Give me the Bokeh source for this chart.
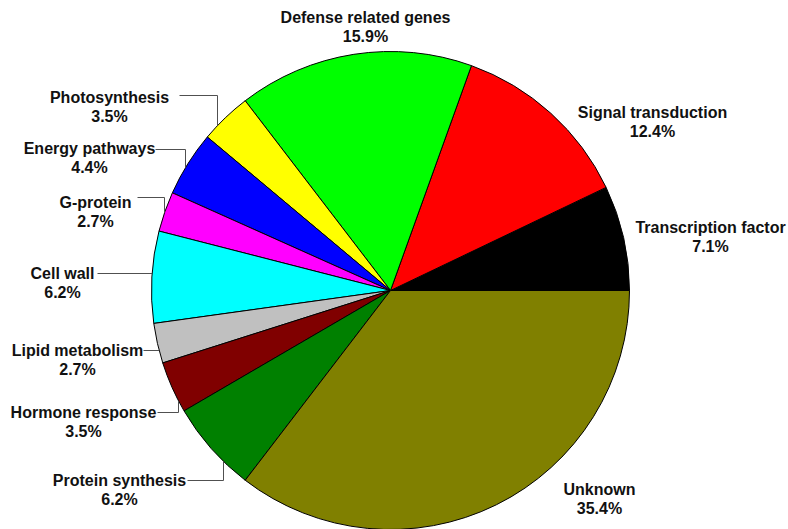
import math
from bokeh.plotting import figure
from bokeh.models import Range1d, ColumnDataSource
from bokeh.core.properties import value
from bokeh.embed import file_html
from bokeh.resources import INLINE

# ---- data ----
categories = ["Transcription factor", "Signal transduction", "Defense related genes",
              "Photosynthesis", "Energy pathways", "G-protein", "Cell wall",
              "Lipid metabolism", "Hormone response", "Protein synthesis", "Unknown"]
percents = [7.1, 12.4, 15.9, 3.5, 4.4, 2.7, 6.2, 2.7, 3.5, 6.2, 35.4]
colors = ["#000000", "#FF0000", "#00FF00", "#FFFF00", "#0000FF", "#FF00FF",
          "#00FFFF", "#C0C0C0", "#800000", "#008000", "#808000"]

# ---- layout (pixel coords, y down) ----
W, H = 788, 529
CX, CY, R = 390, 290, 239
# label centre (x, y of first line); second line 19px below
label_pos = {
    "Transcription factor": (710, 227),
    "Signal transduction": (652, 112),
    "Defense related genes": (365, 17),
    "Photosynthesis": (109, 97),
    "Energy pathways": (89, 148),
    "G-protein": (95, 202),
    "Cell wall": (62, 273),
    "Lipid metabolism": (77, 350),
    "Hormone response": (83, 412),
    "Protein synthesis": (119, 480),
    "Unknown": (599, 489),
}
# leader lines: (start x, y, elbow x or None for horizontal-to-edge)
leaders = {
    "Photosynthesis": (179, 95, 217),
    "Energy pathways": (155, 149, 185),
    "G-protein": (137, 197, 164),
    "Cell wall": (97, 273, None),
    "Lipid metabolism": (143, 350, None),
    "Hormone response": (157, 412, 178),
    "Protein synthesis": (187, 480, 223),
}

def fy(y):
    return H - y

p = figure(width=W, height=H, output_backend="svg", toolbar_location=None,
           x_range=Range1d(0, W), y_range=Range1d(0, H), min_border=0,
           outline_line_color=None)
p.axis.visible = False
p.grid.visible = False
p.background_fill_color = "white"
p.border_fill_color = "white"

starts, ends = [], []
acc = 0.0
for v in percents:
    starts.append(acc / 100 * 2 * math.pi)
    acc += v
    ends.append(acc / 100 * 2 * math.pi)

src = ColumnDataSource(dict(start=starts, end=ends, color=colors,
                            x=[CX] * len(percents), y=[fy(CY)] * len(percents)))
p.wedge(x="x", y="y", radius=R, start_angle="start", end_angle="end",
        direction="anticlock", fill_color="color", line_color="black",
        line_width=1, source=src)

# leader lines
xs, ys = [], []
for name, (sx, sy, ex) in leaders.items():
    if ex is None:
        dy = sy - CY
        px = CX - math.sqrt(R * R - dy * dy)
        xs.append([sx, px])
        ys.append([fy(sy), fy(sy)])
    else:
        dx = ex - CX
        dyabs = math.sqrt(R * R - dx * dx)
        py = CY - dyabs if sy < CY else CY + dyabs
        xs.append([sx, ex, ex])
        ys.append([fy(sy), fy(sy), fy(py)])
p.multi_line(xs=xs, ys=ys, line_color="#505050", line_width=1)

lx, ly1, ly2, t1, t2 = [], [], [], [], []
for name, v in zip(categories, percents):
    x, y = label_pos[name]
    lx.append(x)
    ly1.append(fy(y))
    ly2.append(fy(y + 19))
    t1.append(name)
    t2.append(f"{v}%")

for yy, tt in ((ly1, t1), (ly2, t2)):
    p.text(x=lx, y=yy, text=tt, text_align="center", text_baseline="middle",
           text_font=value("Liberation Sans"), text_font_style="bold",
           text_font_size="16px", text_color="#111111")

open("out.html", "w").write(file_html(p, INLINE))
